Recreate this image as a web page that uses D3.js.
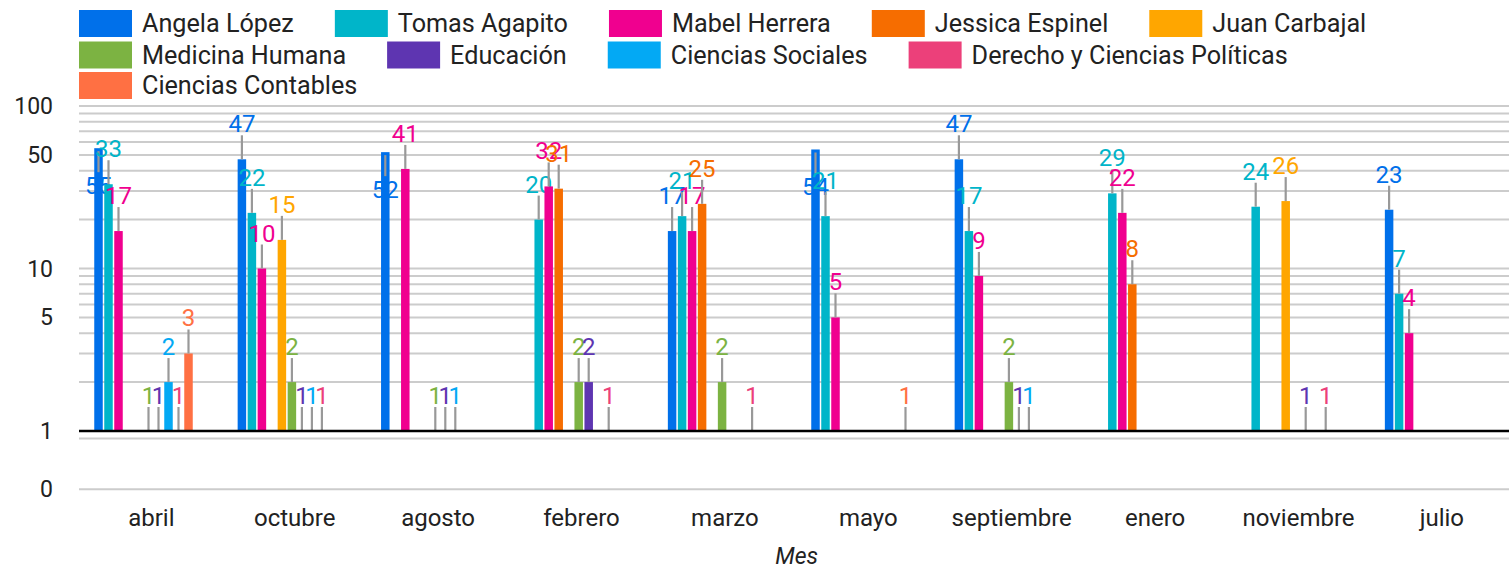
<!DOCTYPE html>
<html><head><meta charset="utf-8">
<script src="https://cdn.jsdelivr.net/npm/d3@7"></script>
<style>
html,body{margin:0;padding:0;background:#fff;}
svg{display:block;font-family:Roboto,"Noto Sans",sans-serif;}
</style></head>
<body>
<svg id="chart" width="1509" height="570"></svg>
<script>
const categories = ["abril","octubre","agosto","febrero","marzo","mayo","septiembre","enero","noviembre","julio"];
const seriesNames = ["Angela López","Tomas Agapito","Mabel Herrera","Jessica Espinel","Juan Carbajal","Medicina Humana","Educación","Ciencias Sociales","Derecho y Ciencias Políticas","Ciencias Contables"];
const seriesColors = ["#0070ea","#00b5c9","#f0008f","#f66d00","#ffa600","#7cb342","#5e35b1","#03a9f4","#ec407a","#ff7043"];
const angela    = [55,47,52,null,17,54,47,null,null,23];
const tomas     = [33,22,null,20,21,21,17,29,24,7];
const mabel     = [17,10,41,32,17,5,9,22,null,4];
const jessica   = [null,null,null,31,25,null,null,8,null,null];
const juan      = [null,15,null,null,null,null,null,null,26,null];
const medicina  = [1,2,1,2,2,null,2,null,null,null];
const educacion = [1,1,1,2,null,null,1,null,1,null];
const sociales  = [2,1,1,null,null,null,1,null,null,null];
const derecho   = [1,1,null,1,1,null,null,null,1,null];
const contables = [3,null,null,null,null,1,null,null,null,null];
const yTickLabels = [100,50,10,5,1,0];
const yGridValues = [0.9,2,3,4,5,6,7,8,9,10,20,30,40,50,60,70,80,90,100];
const xTitle = "Mes";

const seriesValues = [angela,tomas,mabel,jessica,juan,medicina,educacion,sociales,derecho,contables];

const svg = d3.select("#chart");
const plotLeft = 79, plotRight = 1509, plotTop = 105;

const x0 = d3.scaleBand().domain(categories).range([79.6, 79.6 + 143.4*categories.length]).paddingInner(0).paddingOuter(0);
const x1 = d3.scaleBand().domain(d3.range(seriesNames.length)).range([13.9, 113.9]).paddingInner(0.15).paddingOuter(0.075);
const y = d3.scaleLog().domain([1,100]).range([431,106]);
const yZero = d3.scaleLinear().domain([0,1]).range([489.3,431]);
const yPos = v => v === 0 ? yZero(v) : y(v);

// gridlines
const grid = svg.append("g");
grid.selectAll("line.g").data(yGridValues.concat([0])).join("line")
  .attr("x1", plotLeft).attr("x2", plotRight)
  .attr("y1", d => yPos(d)).attr("y2", d => yPos(d))
  .attr("stroke", "#cccccc").attr("stroke-width", 2);

// y tick labels
svg.append("g").selectAll("text").data(yTickLabels).join("text")
  .attr("x", 53).attr("y", d => yPos(d))
  .attr("dy", "0.35em").attr("text-anchor", "end")
  .attr("font-size", 23).attr("fill", "#222")
  .text(d => d);

// bars + annotations per series
const stemLen = 24;
const bars = svg.append("g");
seriesValues.forEach((vals, si) => {
  const g = bars.append("g");
  const pts = vals.map((v,ci) => ({v, c: categories[ci]})).filter(d => d.v !== null);
  g.selectAll("rect").data(pts).join("rect")
    .attr("x", d => x0(d.c) + x1(si))
    .attr("width", x1.bandwidth())
    .attr("y", d => y(d.v))
    .attr("height", d => y(1) - y(d.v))
    .attr("fill", seriesColors[si]);
  pts.forEach(d => {
    const cx = x0(d.c) + x1(si) + x1.bandwidth()/2;
    const top = y(d.v);
    let s1, s2, base;
    if (top - stemLen - 3 - 22 < plotTop) {
      s1 = top + 3; s2 = top + stemLen; base = top + 46;
    } else {
      s1 = top - stemLen; s2 = top; base = top - stemLen - 3;
    }
    g.append("line").attr("x1", cx).attr("x2", cx).attr("y1", s1).attr("y2", s2)
      .attr("stroke", "#999999").attr("stroke-width", 2.2);
    g.append("text").attr("x", cx).attr("y", base).attr("text-anchor", "middle")
      .attr("font-size", 24).attr("fill", seriesColors[si]).text(d.v);
  });
});

// baseline at 1
svg.append("line").attr("x1", plotLeft).attr("x2", plotRight)
  .attr("y1", y(1)).attr("y2", y(1)).attr("stroke", "#000").attr("stroke-width", 2.6);

// x axis labels
const xAxis = d3.axisBottom(x0).tickSize(0).tickPadding(0);
const xg = svg.append("g").attr("transform", "translate(0,526)").call(xAxis);
xg.select(".domain").remove();
xg.selectAll("text").attr("font-size", 24).attr("fill", "#222").attr("dy", 0)
  .attr("font-family", "Roboto, sans-serif");

svg.append("text").attr("x", (x0.range()[0] + x0.range()[1])/2).attr("y", 564)
  .attr("text-anchor", "middle").attr("font-size", 23).attr("font-style", "italic")
  .attr("fill", "#222").text(xTitle);

// legend (flow layout)
const legend = svg.append("g");
let lx = 79, row = 0;
const rowY = [23.5, 55, 85.5];
seriesNames.forEach((name, i) => {
  const t = legend.append("text").attr("font-size", 25.2).attr("fill", "#222").text(name);
  const tw = t.node().getComputedTextLength();
  const itemW = 53 + 10 + tw;
  if (lx + itemW > 1509) { row++; lx = 79; }
  const cy = rowY[row];
  legend.append("rect").attr("x", lx).attr("y", cy - 13.5).attr("width", 53).attr("height", 27)
    .attr("fill", seriesColors[i]);
  t.attr("x", lx + 63).attr("y", cy).attr("dy", "0.35em");
  lx += itemW + 41;
});
</script>
</body></html>
